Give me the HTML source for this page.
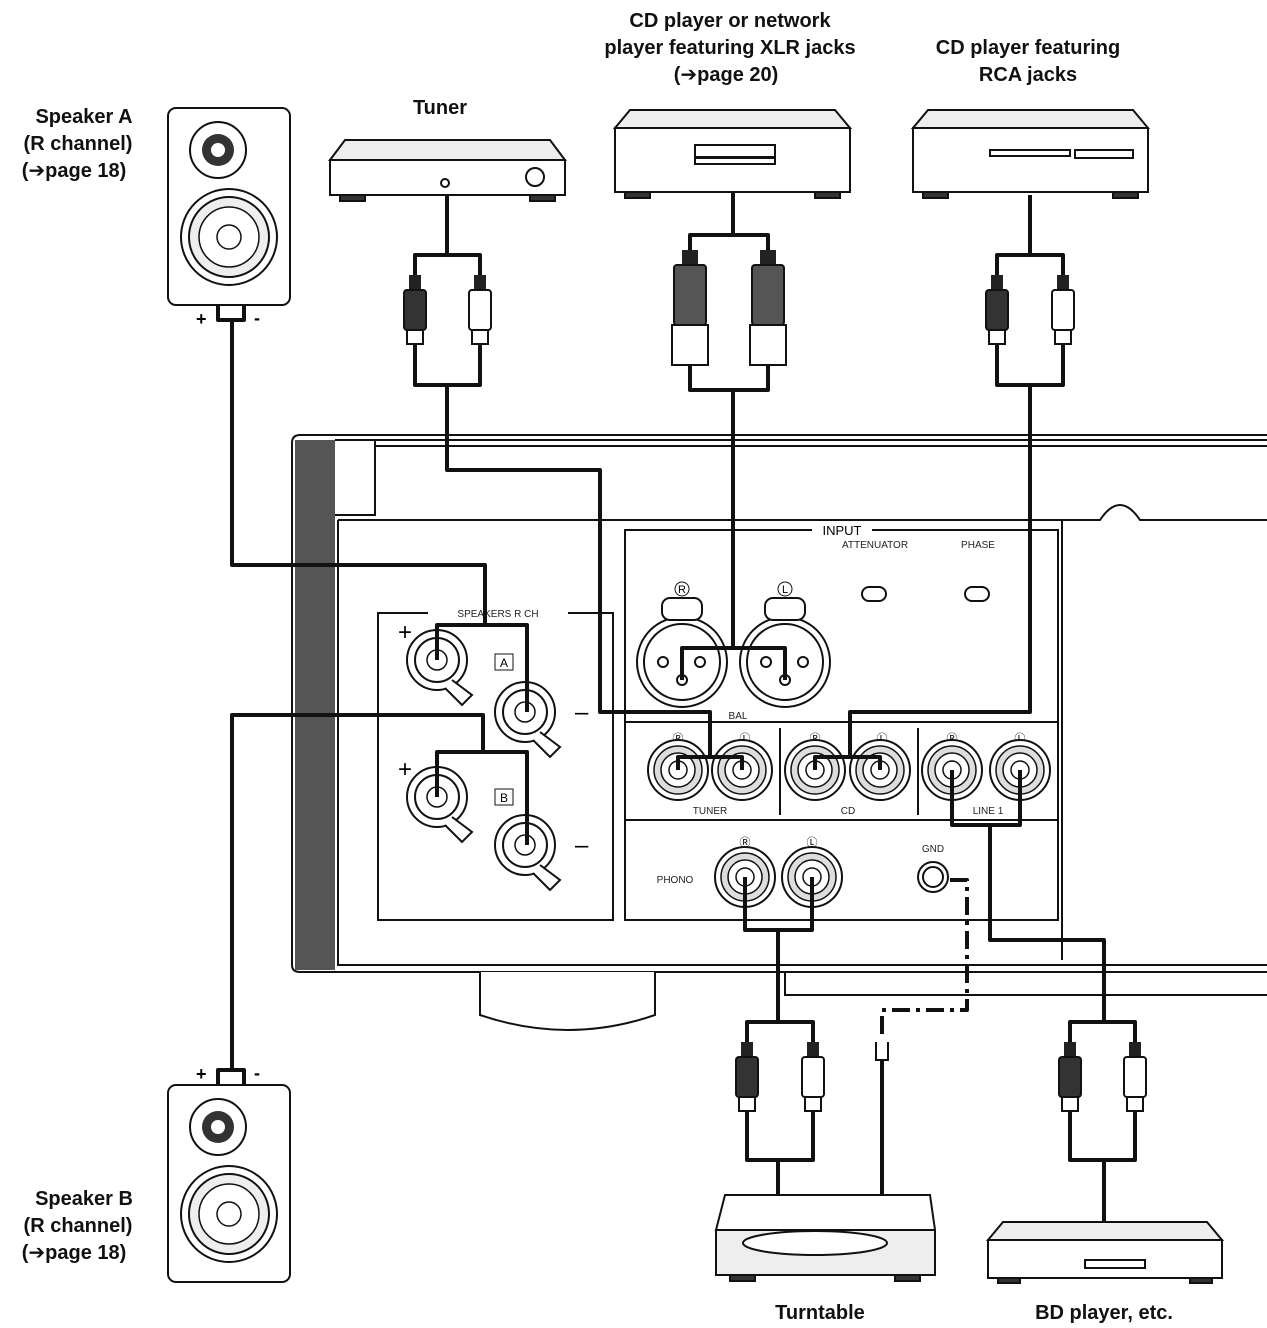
<!DOCTYPE html>
<html><head><meta charset="utf-8"><style>
html,body{margin:0;padding:0;background:#fff}
svg{display:block}
text{font-family:"Liberation Sans","DejaVu Sans",sans-serif}
.lb{font-size:20px;font-weight:bold;fill:#111}
.sm{font-size:10px;fill:#222}
</style></head><body>
<svg width="1267" height="1328" viewBox="0 0 1267 1328" xmlns="http://www.w3.org/2000/svg">
<defs>
<g id="rca">
 <rect x="-6" y="-55" width="12" height="15" fill="#222"/>
 <rect x="-11" y="-40" width="22" height="40" rx="3" fill="#333" stroke="#111" stroke-width="2"/>
 <rect x="-8" y="0" width="16" height="14" fill="#fff" stroke="#111" stroke-width="2"/>
 <rect x="-2" y="14" width="4" height="16" fill="#111"/>
</g>
<g id="rcaw">
 <rect x="-6" y="-55" width="12" height="15" fill="#222"/>
 <rect x="-11" y="-40" width="22" height="40" rx="3" fill="#fff" stroke="#111" stroke-width="2"/>
 <rect x="-8" y="0" width="16" height="14" fill="#fff" stroke="#111" stroke-width="2"/>
 <rect x="-2" y="14" width="4" height="16" fill="#111"/>
</g>
<g id="xlr">
 <rect x="-8" y="-50" width="16" height="15" fill="#222"/>
 <rect x="-16" y="-35" width="32" height="60" rx="3" fill="#555" stroke="#111" stroke-width="2"/>
 <rect x="-18" y="25" width="36" height="40" fill="#fff" stroke="#111" stroke-width="2"/>
</g>
<g id="jack">
 <circle r="30" fill="#fff" stroke="#111" stroke-width="2"/>
 <circle r="24" fill="#ddd" stroke="#111" stroke-width="1.5"/>
 <circle r="17" fill="#fff" stroke="#111" stroke-width="1.5"/>
 <circle r="9" fill="#fff" stroke="#111" stroke-width="1.5"/>
</g>
<g id="spk">
 <rect x="0" y="0" width="122" height="197" rx="8" fill="#fff" stroke="#111" stroke-width="2"/>
 <circle cx="50" cy="42" r="28" fill="#fff" stroke="#111" stroke-width="2"/>
 <circle cx="50" cy="42" r="16" fill="#333"/>
 <circle cx="50" cy="42" r="7" fill="#fff"/>
 <circle cx="61" cy="129" r="48" fill="#fff" stroke="#111" stroke-width="2"/>
 <circle cx="61" cy="129" r="40" fill="#eee" stroke="#111" stroke-width="2"/>
 <circle cx="61" cy="129" r="30" fill="#fff" stroke="#111" stroke-width="1.5"/>
 <circle cx="61" cy="129" r="12" fill="#fff" stroke="#111" stroke-width="1.5"/>
</g>
<g id="post">
 <circle r="30" fill="#fff" stroke="#111" stroke-width="2"/>
 <circle r="22" fill="#fff" stroke="#111" stroke-width="2"/>
 <circle r="10" fill="#fff" stroke="#111" stroke-width="1.5"/>
 <path d="M15,20 L35,35 L25,45 L8,28" fill="#fff" stroke="#111" stroke-width="2"/>
</g>
</defs>

<text class="lb" x="84" y="123" text-anchor="middle">Speaker A</text>
<text class="lb" x="78" y="150" text-anchor="middle">(R channel)</text>
<text class="lb" x="74" y="177" text-anchor="middle">(➔page 18)</text>
<text class="lb" x="440" y="114" text-anchor="middle">Tuner</text>
<text class="lb" x="730" y="27" text-anchor="middle">CD player or network</text>
<text class="lb" x="730" y="54" text-anchor="middle">player featuring XLR jacks</text>
<text class="lb" x="726" y="81" text-anchor="middle">(➔page 20)</text>
<text class="lb" x="1028" y="54" text-anchor="middle">CD player featuring</text>
<text class="lb" x="1028" y="81" text-anchor="middle">RCA jacks</text>
<text class="lb" x="84" y="1205" text-anchor="middle">Speaker B</text>
<text class="lb" x="78" y="1232" text-anchor="middle">(R channel)</text>
<text class="lb" x="74" y="1259" text-anchor="middle">(➔page 18)</text>
<text class="lb" x="820" y="1319" text-anchor="middle">Turntable</text>
<text class="lb" x="1104" y="1319" text-anchor="middle">BD player, etc.</text>

<use href="#spk" x="168" y="108"/>
<use href="#spk" x="168" y="1085"/>
<text x="196" y="325" font-size="18" font-weight="bold">+</text><text x="254" y="324" font-size="18" font-weight="bold">-</text>
<text x="196" y="1080" font-size="18" font-weight="bold">+</text><text x="254" y="1079" font-size="18" font-weight="bold">-</text>

<g stroke="#111" stroke-width="2" fill="#fff">
 <path d="M345,140 L550,140 L565,160 L330,160 Z" fill="#eee"/>
 <rect x="330" y="160" width="235" height="35"/>
 <rect x="340" y="195" width="25" height="6" fill="#333"/><rect x="530" y="195" width="25" height="6" fill="#333"/>
 <circle cx="535" cy="177" r="9"/><circle cx="445" cy="183" r="4"/>
 <path d="M630,110 L835,110 L850,128 L615,128 Z" fill="#eee"/>
 <rect x="615" y="128" width="235" height="64"/>
 <rect x="695" y="145" width="80" height="12"/><rect x="695" y="158" width="80" height="6"/>
 <rect x="625" y="192" width="25" height="6" fill="#333"/><rect x="815" y="192" width="25" height="6" fill="#333"/>
 <path d="M928,110 L1133,110 L1148,128 L913,128 Z" fill="#eee"/>
 <rect x="913" y="128" width="235" height="64"/>
 <rect x="990" y="150" width="80" height="6"/><rect x="1075" y="150" width="58" height="8"/>
 <rect x="923" y="192" width="25" height="6" fill="#333"/><rect x="1113" y="192" width="25" height="6" fill="#333"/>
 <path d="M725,1195 L930,1195 L935,1230 L716,1230 Z"/>
 <rect x="716" y="1230" width="219" height="45" fill="#eee"/>
 <ellipse cx="815" cy="1243" rx="72" ry="12"/>
 <rect x="730" y="1275" width="25" height="6" fill="#333"/><rect x="895" y="1275" width="25" height="6" fill="#333"/>
 <path d="M1003,1222 L1207,1222 L1222,1240 L988,1240 Z" fill="#eee"/>
 <rect x="988" y="1240" width="234" height="38"/>
 <rect x="1085" y="1260" width="60" height="8"/>
 <rect x="998" y="1278" width="22" height="5" fill="#333"/><rect x="1190" y="1278" width="22" height="5" fill="#333"/>
</g>

<g stroke="#111" stroke-width="2" fill="none">
 <path d="M1267,435 L300,435 Q292,435 292,443 L292,965 Q292,972 300,972 L1267,972"/>
 <rect x="295" y="440" width="40" height="530" fill="#555" stroke="none"/>
 <path d="M335,440 L375,440 L375,515 L335,515"/>
 <path d="M375,440 L1267,440 M375,446 L1267,446"/>
 <path d="M338,520 L1100,520 Q1120,490 1140,520 L1267,520"/>
 <path d="M338,520 L338,965 L1267,965 M785,972 L785,995 L1267,995"/>
 <rect x="378" y="613" width="235" height="307"/>
 <rect x="625" y="530" width="433" height="390"/>
 <path d="M625,722 L1058,722 M625,820 L1058,820 M780,728 L780,815 M918,728 L918,815"/>
 <path d="M1062,520 L1062,960"/>
 <path d="M480,972 L480,1015 Q568,1045 655,1015 L655,972" fill="#fff"/>
</g>
<rect x="428" y="606" width="140" height="14" fill="#fff"/>
<text class="sm" x="498" y="617" text-anchor="middle" font-size="12">SPEAKERS R CH</text>
<rect x="812" y="524" width="60" height="14" fill="#fff"/>
<text x="842" y="535" text-anchor="middle" font-size="13">INPUT</text>
<text class="sm" x="875" y="548" text-anchor="middle">ATTENUATOR</text>
<text class="sm" x="978" y="548" text-anchor="middle">PHASE</text>
<text class="sm" x="738" y="719" text-anchor="middle">BAL</text>
<text class="sm" x="710" y="814" text-anchor="middle">TUNER</text>
<text class="sm" x="848" y="814" text-anchor="middle">CD</text>
<text class="sm" x="988" y="814" text-anchor="middle">LINE 1</text>
<text class="sm" x="675" y="883" text-anchor="middle">PHONO</text>
<text class="sm" x="933" y="852" text-anchor="middle">GND</text>
<g stroke="#111" stroke-width="2" fill="#fff">
 <rect x="862" y="587" width="24" height="14" rx="7"/><rect x="965" y="587" width="24" height="14" rx="7"/>
 <circle cx="682" cy="662" r="45"/><circle cx="682" cy="662" r="38"/>
 <circle cx="785" cy="662" r="45"/><circle cx="785" cy="662" r="38"/>
 <rect x="662" y="598" width="40" height="22" rx="8"/><rect x="765" y="598" width="40" height="22" rx="8"/>
 <circle cx="663" cy="662" r="5"/><circle cx="700" cy="662" r="5"/><circle cx="682" cy="680" r="5"/>
 <circle cx="766" cy="662" r="5"/><circle cx="803" cy="662" r="5"/><circle cx="785" cy="680" r="5"/>
 <circle cx="933" cy="877" r="15"/><circle cx="933" cy="877" r="10"/>
</g>
<g font-size="11" text-anchor="middle">
 <circle cx="682" cy="589" r="7" fill="none" stroke="#111"/><text x="682" y="593">R</text>
 <circle cx="785" cy="589" r="7" fill="none" stroke="#111"/><text x="785" y="593">L</text>
 <text x="678" y="742">Ⓡ</text><text x="745" y="742">Ⓛ</text><text x="815" y="742">Ⓡ</text><text x="882" y="742">Ⓛ</text>
 <text x="952" y="742">Ⓡ</text><text x="1020" y="742">Ⓛ</text><text x="745" y="846">Ⓡ</text><text x="812" y="846">Ⓛ</text>
</g>
<use href="#jack" x="678" y="770"/><use href="#jack" x="742" y="770"/>
<use href="#jack" x="815" y="770"/><use href="#jack" x="880" y="770"/>
<use href="#jack" x="952" y="770"/><use href="#jack" x="1020" y="770"/>
<use href="#jack" x="745" y="877"/><use href="#jack" x="812" y="877"/>
<use href="#post" x="437" y="660"/><use href="#post" x="525" y="712"/>
<use href="#post" x="437" y="797"/><use href="#post" x="525" y="845"/>
<text x="398" y="640" font-size="24">+</text><text x="398" y="777" font-size="24">+</text>
<text x="575" y="720" font-size="24">–</text><text x="575" y="853" font-size="24">–</text>
<rect x="495" y="654" width="18" height="16" fill="#fff" stroke="#111"/><text x="504" y="667" font-size="12" text-anchor="middle">A</text>
<rect x="495" y="789" width="18" height="16" fill="#fff" stroke="#111"/><text x="504" y="802" font-size="12" text-anchor="middle">B</text>

<g stroke="#111" stroke-width="4" fill="none" stroke-linejoin="round">
 <path d="M218,305 L218,320 L244,320 L244,305"/>
 <path d="M232,320 L232,565 L485,565 L485,625 L437,625 L437,660 M485,625 L527,625 L527,712"/>
 <path d="M218,1085 L218,1070 L244,1070 L244,1085"/>
 <path d="M232,1070 L232,715 L483,715 L483,752 L437,752 L437,797 M483,752 L527,752 L527,845"/>
 <path d="M447,195 L447,255 M415,275 L415,255 L480,255 L480,275 M415,358 L415,385 L480,385 L480,358"/>
 <path d="M447,385 L447,470 L600,470 L600,712 L710,712 L710,755 M678,770 L678,757 L742,757 L742,770"/>
 <path d="M733,192 L733,235 L690,235 L690,260 M733,235 L768,235 L768,260 M690,365 L690,390 L768,390 L768,365 M733,390 L733,648 M682,680 L682,648 L785,648 L785,680"/>
 <path d="M1030,195 L1030,255 M997,275 L997,255 L1063,255 L1063,275 M997,358 L997,385 L1063,385 L1063,358"/>
 <path d="M1030,385 L1030,712 L850,712 L850,757 M815,770 L815,757 L880,757 L880,770"/>
 <path d="M952,770 L952,825 L1020,825 L1020,770 M990,825 L990,940 L1104,940 L1104,1022 M1070,1042 L1070,1022 L1135,1022 L1135,1042 M1070,1125 L1070,1160 L1135,1160 L1135,1125 M1104,1160 L1104,1222"/>
 <path d="M745,877 L745,930 L812,930 L812,877 M778,930 L778,1022 M747,1042 L747,1022 L813,1022 L813,1042 M747,1125 L747,1160 L813,1160 L813,1125 M778,1160 L778,1195"/>
 <path d="M950,880 L967,880 L967,1010 L882,1010 L882,1040" stroke-dasharray="18,6,4,6"/>
 <path d="M882,1060 L882,1195"/>
</g>
<path d="M876,1042 L876,1060 L888,1060 L888,1042" stroke="#111" stroke-width="2" fill="none"/>
<use href="#rca" x="415" y="330"/><use href="#rcaw" x="480" y="330"/>
<use href="#xlr" x="690" y="300"/><use href="#xlr" x="768" y="300"/>
<use href="#rca" x="997" y="330"/><use href="#rcaw" x="1063" y="330"/>
<use href="#rca" x="747" y="1097"/><use href="#rcaw" x="813" y="1097"/>
<use href="#rca" x="1070" y="1097"/><use href="#rcaw" x="1135" y="1097"/>
</svg>
</body></html>
